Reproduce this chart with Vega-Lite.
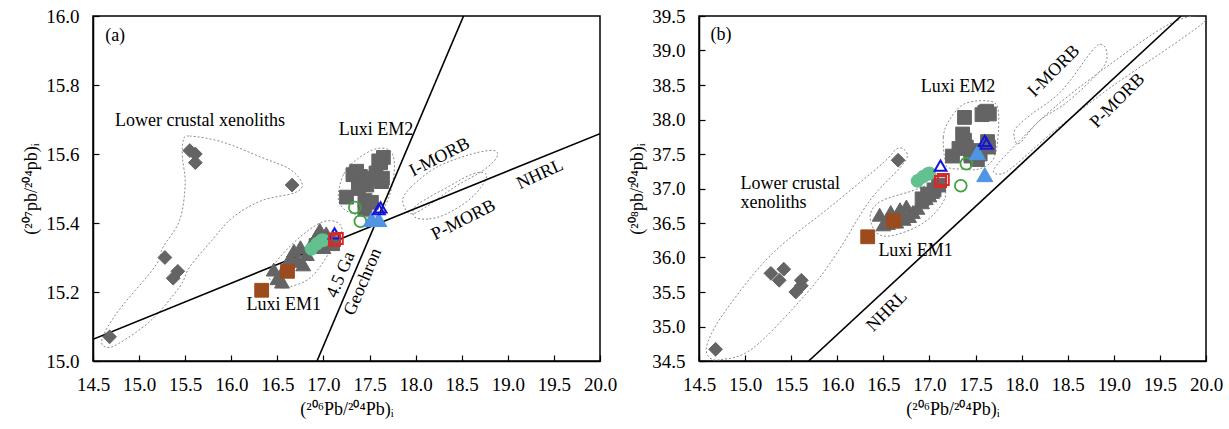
{
  "$schema": "https://vega.github.io/schema/vega-lite/v6.json",
  "autosize": {"type": "pad"},
  "padding": {"left": 22, "top": 6, "right": 5, "bottom": 5},
  "background": "white",
  "bounds": "flush",
  "spacing": 99,
  "config": {
    "view": {"stroke": "black", "strokeWidth": 1.5},
    "axis": {
      "grid": false,
      "labelFont": "Liberation Serif",
      "labelFontSize": 19,
      "labelColor": "black",
      "labelOverlap": false,
      "labelFlush": false,
      "titleFont": "Liberation Serif",
      "titleFontSize": 18,
      "titleFontWeight": "normal",
      "titleColor": "black",
      "domainColor": "black",
      "domainWidth": 1.5,
      "tickColor": "black",
      "tickWidth": 1.2,
      "tickSize": -6,
      "labelPadding": 20,
      "format": ".1f"
    },
    "axisX": {"titlePadding": 6},
    "axisY": {"titlePadding": 5},
    "text": {"font": "Liberation Serif", "fontSize": 18, "color": "black"}
  },
  "datasets": {
    "samples": [
      {"g": "xenolith", "x": 14.68, "pb207": 15.07, "pb208": 34.67},
      {"g": "xenolith", "x": 15.28, "pb207": 15.30, "pb208": 35.77},
      {"g": "xenolith", "x": 15.37, "pb207": 15.24, "pb208": 35.67},
      {"g": "xenolith", "x": 15.42, "pb207": 15.26, "pb208": 35.83},
      {"g": "xenolith", "x": 15.55, "pb207": 15.61, "pb208": 35.50},
      {"g": "xenolith", "x": 15.61, "pb207": 15.60, "pb208": 35.59},
      {"g": "xenolith", "x": 15.61, "pb207": 15.575, "pb208": 35.67},
      {"g": "xenolith", "x": 16.66, "pb207": 15.51, "pb208": 37.41},
      {"g": "em1", "x": 16.46, "pb207": 15.265, "pb208": 36.62},
      {"g": "em1", "x": 16.50, "pb207": 15.24, "pb208": 36.48},
      {"g": "em1", "x": 16.55, "pb207": 15.23, "pb208": 36.50},
      {"g": "em1", "x": 16.58, "pb207": 15.27, "pb208": 36.66},
      {"g": "em1", "x": 16.64, "pb207": 15.30, "pb208": 36.52},
      {"g": "em1", "x": 16.68, "pb207": 15.32, "pb208": 36.70},
      {"g": "em1", "x": 16.72, "pb207": 15.29, "pb208": 36.56},
      {"g": "em1", "x": 16.75, "pb207": 15.33, "pb208": 36.74},
      {"g": "em1", "x": 16.78, "pb207": 15.28, "pb208": 36.60},
      {"g": "em1", "x": 16.82, "pb207": 15.31, "pb208": 36.66},
      {"g": "em1", "x": 16.87, "pb207": 15.34, "pb208": 36.72},
      {"g": "em1", "x": 16.92, "pb207": 15.36, "pb208": 36.80},
      {"g": "em1", "x": 16.96, "pb207": 15.38, "pb208": 36.86},
      {"g": "em1", "x": 17.00, "pb207": 15.33, "pb208": 36.90},
      {"g": "em1", "x": 17.03, "pb207": 15.37, "pb208": 36.95},
      {"g": "em2", "x": 16.92, "pb207": 15.335, "pb208": 36.85},
      {"g": "em2", "x": 16.98, "pb207": 15.345, "pb208": 36.92},
      {"g": "em2", "x": 17.05, "pb207": 15.35, "pb208": 36.98},
      {"g": "em2", "x": 17.10, "pb207": 15.34, "pb208": 37.05},
      {"g": "em2", "x": 17.25, "pb207": 15.475, "pb208": 37.47},
      {"g": "em2", "x": 17.32, "pb207": 15.54, "pb208": 37.58},
      {"g": "em2", "x": 17.36, "pb207": 15.55, "pb208": 37.79},
      {"g": "em2", "x": 17.38, "pb207": 15.52, "pb208": 38.03},
      {"g": "em2", "x": 17.40, "pb207": 15.535, "pb208": 37.60},
      {"g": "em2", "x": 17.38, "pb207": 15.50, "pb208": 37.70},
      {"g": "em2", "x": 17.45, "pb207": 15.465, "pb208": 37.47},
      {"g": "em2", "x": 17.47, "pb207": 15.51, "pb208": 37.55},
      {"g": "em2", "x": 17.45, "pb207": 15.44, "pb208": 37.50},
      {"g": "em2", "x": 17.55, "pb207": 15.53, "pb208": 37.50},
      {"g": "em2", "x": 17.57, "pb207": 15.545, "pb208": 38.07},
      {"g": "em2", "x": 17.62, "pb207": 15.575, "pb208": 38.12},
      {"g": "em2", "x": 17.65, "pb207": 15.59, "pb208": 38.08},
      {"g": "em2", "x": 17.60, "pb207": 15.58, "pb208": 38.10},
      {"g": "em2", "x": 17.63, "pb207": 15.52, "pb208": 37.68},
      {"g": "em2", "x": 17.52, "pb207": 15.46, "pb208": 37.42},
      {"g": "em2", "x": 17.64, "pb207": 15.53, "pb208": 37.60},
      {"g": "brown", "x": 16.33, "pb207": 15.205, "pb208": 36.30},
      {"g": "brown", "x": 16.61, "pb207": 15.26, "pb208": 36.53},
      {"g": "mint", "x": 16.87, "pb207": 15.325, "pb208": 37.11},
      {"g": "mint", "x": 16.93, "pb207": 15.34, "pb208": 37.17},
      {"g": "mint", "x": 16.98, "pb207": 15.35, "pb208": 37.21},
      {"g": "mint", "x": 17.00, "pb207": 15.35, "pb208": 37.22},
      {"g": "ring", "x": 17.34, "pb207": 15.445, "pb208": 37.04},
      {"g": "ring", "x": 17.40, "pb207": 15.405, "pb208": 37.36},
      {"g": "skyTri", "x": 17.52, "pb207": 15.41, "pb208": 37.52},
      {"g": "skyTri", "x": 17.60, "pb207": 15.41, "pb208": 37.20},
      {"g": "blueTri", "x": 17.12, "pb207": 15.37, "pb208": 37.33},
      {"g": "blueTri", "x": 17.60, "pb207": 15.44, "pb208": 37.69},
      {"g": "blueTri", "x": 17.62, "pb207": 15.445, "pb208": 37.65},
      {"g": "redSq", "x": 17.12, "pb207": 15.35, "pb208": 37.10},
      {"g": "redSq", "x": 17.15, "pb207": 15.355, "pb208": 37.13}
    ],
    "refLines": [
      {"panel": "a", "name": "nhrl", "i": 1, "x": 14.5, "y": 15.063},
      {"panel": "a", "name": "nhrl", "i": 2, "x": 20.0, "y": 15.659},
      {"panel": "a", "name": "geochron", "i": 1, "x": 16.93, "y": 15.0},
      {"panel": "a", "name": "geochron", "i": 2, "x": 18.52, "y": 16.0},
      {"panel": "b", "name": "nhrl", "i": 1, "x": 15.69, "y": 34.5},
      {"panel": "b", "name": "nhrl", "i": 2, "x": 19.73, "y": 39.5}
    ],
    "fields": [
      {"panel": "a", "name": "xen", "i": 1, "x": 15.48, "y": 15.64},
      {"panel": "a", "name": "xen", "i": 2, "x": 15.55, "y": 15.652},
      {"panel": "a", "name": "xen", "i": 3, "x": 15.90, "y": 15.635},
      {"panel": "a", "name": "xen", "i": 4, "x": 16.33, "y": 15.59},
      {"panel": "a", "name": "xen", "i": 5, "x": 16.64, "y": 15.555},
      {"panel": "a", "name": "xen", "i": 6, "x": 16.77, "y": 15.512},
      {"panel": "a", "name": "xen", "i": 7, "x": 16.68, "y": 15.487},
      {"panel": "a", "name": "xen", "i": 8, "x": 16.33, "y": 15.465},
      {"panel": "a", "name": "xen", "i": 9, "x": 16.02, "y": 15.417},
      {"panel": "a", "name": "xen", "i": 10, "x": 15.79, "y": 15.35},
      {"panel": "a", "name": "xen", "i": 11, "x": 15.55, "y": 15.273},
      {"panel": "a", "name": "xen", "i": 12, "x": 15.44, "y": 15.215},
      {"panel": "a", "name": "xen", "i": 13, "x": 15.13, "y": 15.118},
      {"panel": "a", "name": "xen", "i": 14, "x": 14.78, "y": 15.051},
      {"panel": "a", "name": "xen", "i": 15, "x": 14.64, "y": 15.04},
      {"panel": "a", "name": "xen", "i": 16, "x": 14.60, "y": 15.066},
      {"panel": "a", "name": "xen", "i": 17, "x": 14.78, "y": 15.147},
      {"panel": "a", "name": "xen", "i": 18, "x": 15.17, "y": 15.273},
      {"panel": "a", "name": "xen", "i": 19, "x": 15.26, "y": 15.33},
      {"panel": "a", "name": "xen", "i": 20, "x": 15.44, "y": 15.408},
      {"panel": "a", "name": "xen", "i": 21, "x": 15.50, "y": 15.513},
      {"panel": "a", "name": "xen", "i": 22, "x": 15.47, "y": 15.59},
      {"panel": "a", "name": "em1", "i": 1, "x": 16.41, "y": 15.253},
      {"panel": "a", "name": "em1", "i": 2, "x": 16.48, "y": 15.22},
      {"panel": "a", "name": "em1", "i": 3, "x": 16.60, "y": 15.213},
      {"panel": "a", "name": "em1", "i": 4, "x": 16.87, "y": 15.244},
      {"panel": "a", "name": "em1", "i": 5, "x": 17.10, "y": 15.33},
      {"panel": "a", "name": "em1", "i": 6, "x": 17.20, "y": 15.379},
      {"panel": "a", "name": "em1", "i": 7, "x": 17.14, "y": 15.403},
      {"panel": "a", "name": "em1", "i": 8, "x": 16.99, "y": 15.403},
      {"panel": "a", "name": "em1", "i": 9, "x": 16.79, "y": 15.369},
      {"panel": "a", "name": "em1", "i": 10, "x": 16.56, "y": 15.311},
      {"panel": "a", "name": "em2", "i": 1, "x": 17.16, "y": 15.475},
      {"panel": "a", "name": "em2", "i": 2, "x": 17.22, "y": 15.542},
      {"panel": "a", "name": "em2", "i": 3, "x": 17.37, "y": 15.586},
      {"panel": "a", "name": "em2", "i": 4, "x": 17.57, "y": 15.615},
      {"panel": "a", "name": "em2", "i": 5, "x": 17.72, "y": 15.61},
      {"panel": "a", "name": "em2", "i": 6, "x": 17.77, "y": 15.571},
      {"panel": "a", "name": "em2", "i": 7, "x": 17.74, "y": 15.504},
      {"panel": "a", "name": "em2", "i": 8, "x": 17.66, "y": 15.446},
      {"panel": "a", "name": "em2", "i": 9, "x": 17.53, "y": 15.417},
      {"panel": "a", "name": "em2", "i": 10, "x": 17.33, "y": 15.427},
      {"panel": "a", "name": "em2", "i": 11, "x": 17.22, "y": 15.441},
      {"panel": "a", "name": "imorb", "i": 1, "x": 17.86, "y": 15.465},
      {"panel": "a", "name": "imorb", "i": 2, "x": 17.95, "y": 15.504},
      {"panel": "a", "name": "imorb", "i": 3, "x": 18.23, "y": 15.562},
      {"panel": "a", "name": "imorb", "i": 4, "x": 18.61, "y": 15.60},
      {"panel": "a", "name": "imorb", "i": 5, "x": 18.85, "y": 15.61},
      {"panel": "a", "name": "imorb", "i": 6, "x": 18.88, "y": 15.59},
      {"panel": "a", "name": "imorb", "i": 7, "x": 18.73, "y": 15.552},
      {"panel": "a", "name": "imorb", "i": 8, "x": 18.42, "y": 15.504},
      {"panel": "a", "name": "imorb", "i": 9, "x": 18.11, "y": 15.446},
      {"panel": "a", "name": "imorb", "i": 10, "x": 17.94, "y": 15.427},
      {"panel": "a", "name": "pmorb", "i": 1, "x": 17.99, "y": 15.417},
      {"panel": "a", "name": "pmorb", "i": 2, "x": 18.15, "y": 15.412},
      {"panel": "a", "name": "pmorb", "i": 3, "x": 18.34, "y": 15.427},
      {"panel": "a", "name": "pmorb", "i": 4, "x": 18.57, "y": 15.465},
      {"panel": "a", "name": "pmorb", "i": 5, "x": 18.71, "y": 15.504},
      {"panel": "a", "name": "pmorb", "i": 6, "x": 18.77, "y": 15.538},
      {"panel": "a", "name": "pmorb", "i": 7, "x": 18.69, "y": 15.547},
      {"panel": "a", "name": "pmorb", "i": 8, "x": 18.54, "y": 15.533},
      {"panel": "a", "name": "pmorb", "i": 9, "x": 18.38, "y": 15.509},
      {"panel": "a", "name": "pmorb", "i": 10, "x": 18.15, "y": 15.475},
      {"panel": "a", "name": "pmorb", "i": 11, "x": 17.99, "y": 15.446},
      {"panel": "b", "name": "xen", "i": 1, "x": 14.60, "y": 34.57},
      {"panel": "b", "name": "xen", "i": 2, "x": 14.74, "y": 34.52},
      {"panel": "b", "name": "xen", "i": 3, "x": 15.09, "y": 34.69},
      {"panel": "b", "name": "xen", "i": 4, "x": 15.66, "y": 35.47},
      {"panel": "b", "name": "xen", "i": 5, "x": 15.99, "y": 36.05},
      {"panel": "b", "name": "xen", "i": 6, "x": 16.35, "y": 36.82},
      {"panel": "b", "name": "xen", "i": 7, "x": 16.68, "y": 37.30},
      {"panel": "b", "name": "xen", "i": 8, "x": 16.76, "y": 37.47},
      {"panel": "b", "name": "xen", "i": 9, "x": 16.72, "y": 37.57},
      {"panel": "b", "name": "xen", "i": 10, "x": 16.64, "y": 37.57},
      {"panel": "b", "name": "xen", "i": 11, "x": 16.48, "y": 37.35},
      {"panel": "b", "name": "xen", "i": 12, "x": 15.91, "y": 36.72},
      {"panel": "b", "name": "xen", "i": 13, "x": 15.29, "y": 36.05},
      {"panel": "b", "name": "xen", "i": 14, "x": 14.81, "y": 35.27},
      {"panel": "b", "name": "xen", "i": 15, "x": 14.60, "y": 34.79},
      {"panel": "b", "name": "em1", "i": 1, "x": 16.36, "y": 36.63},
      {"panel": "b", "name": "em1", "i": 2, "x": 16.48, "y": 36.82},
      {"panel": "b", "name": "em1", "i": 3, "x": 16.80, "y": 36.96},
      {"panel": "b", "name": "em1", "i": 4, "x": 17.05, "y": 37.08},
      {"panel": "b", "name": "em1", "i": 5, "x": 17.15, "y": 37.04},
      {"panel": "b", "name": "em1", "i": 6, "x": 17.17, "y": 36.87},
      {"panel": "b", "name": "em1", "i": 7, "x": 17.05, "y": 36.63},
      {"panel": "b", "name": "em1", "i": 8, "x": 16.84, "y": 36.43},
      {"panel": "b", "name": "em1", "i": 9, "x": 16.56, "y": 36.31},
      {"panel": "b", "name": "em1", "i": 10, "x": 16.41, "y": 36.38},
      {"panel": "b", "name": "em2", "i": 1, "x": 17.17, "y": 37.40},
      {"panel": "b", "name": "em2", "i": 2, "x": 17.15, "y": 37.74},
      {"panel": "b", "name": "em2", "i": 3, "x": 17.21, "y": 37.98},
      {"panel": "b", "name": "em2", "i": 4, "x": 17.37, "y": 38.22},
      {"panel": "b", "name": "em2", "i": 5, "x": 17.62, "y": 38.27},
      {"panel": "b", "name": "em2", "i": 6, "x": 17.74, "y": 38.17},
      {"panel": "b", "name": "em2", "i": 7, "x": 17.74, "y": 37.69},
      {"panel": "b", "name": "em2", "i": 8, "x": 17.68, "y": 37.40},
      {"panel": "b", "name": "em2", "i": 9, "x": 17.53, "y": 37.28},
      {"panel": "b", "name": "em2", "i": 10, "x": 17.37, "y": 37.28},
      {"panel": "b", "name": "em2", "i": 11, "x": 17.21, "y": 37.30},
      {"panel": "b", "name": "imorb", "i": 1, "x": 17.92, "y": 37.74},
      {"panel": "b", "name": "imorb", "i": 2, "x": 17.94, "y": 37.88},
      {"panel": "b", "name": "imorb", "i": 3, "x": 18.10, "y": 38.07},
      {"panel": "b", "name": "imorb", "i": 4, "x": 18.43, "y": 38.41},
      {"panel": "b", "name": "imorb", "i": 5, "x": 18.76, "y": 38.99},
      {"panel": "b", "name": "imorb", "i": 6, "x": 18.86, "y": 39.09},
      {"panel": "b", "name": "imorb", "i": 7, "x": 18.92, "y": 38.99},
      {"panel": "b", "name": "imorb", "i": 8, "x": 18.88, "y": 38.75},
      {"panel": "b", "name": "imorb", "i": 9, "x": 18.51, "y": 38.27},
      {"panel": "b", "name": "imorb", "i": 10, "x": 18.19, "y": 37.98},
      {"panel": "b", "name": "imorb", "i": 11, "x": 17.98, "y": 37.66},
      {"panel": "b", "name": "pmorb", "i": 1, "x": 17.70, "y": 37.28},
      {"panel": "b", "name": "pmorb", "i": 2, "x": 17.94, "y": 37.64},
      {"panel": "b", "name": "pmorb", "i": 3, "x": 18.35, "y": 38.17},
      {"panel": "b", "name": "pmorb", "i": 4, "x": 18.96, "y": 38.80},
      {"panel": "b", "name": "pmorb", "i": 5, "x": 19.57, "y": 39.36},
      {"panel": "b", "name": "pmorb", "i": 6, "x": 19.94, "y": 39.52},
      {"panel": "b", "name": "pmorb", "i": 7, "x": 19.99, "y": 39.43},
      {"panel": "b", "name": "pmorb", "i": 8, "x": 19.65, "y": 39.09},
      {"panel": "b", "name": "pmorb", "i": 9, "x": 18.96, "y": 38.46},
      {"panel": "b", "name": "pmorb", "i": 10, "x": 18.35, "y": 37.83},
      {"panel": "b", "name": "pmorb", "i": 11, "x": 17.94, "y": 37.35},
      {"panel": "b", "name": "pmorb", "i": 12, "x": 17.78, "y": 37.21}
    ],
    "notes": [
      {"panel": "a", "text": "(a)", "x": 14.74, "y": 15.942},
      {"panel": "a", "text": "Lower crustal xenoliths", "x": 15.66, "y": 15.697},
      {"panel": "a", "text": "Luxi EM2", "x": 17.57, "y": 15.67},
      {"panel": "a", "text": "Luxi EM1", "x": 16.57, "y": 15.162},
      {"panel": "a", "text": "I-MORB", "x": 18.26, "y": 15.59},
      {"panel": "a", "text": "P-MORB", "x": 18.52, "y": 15.408},
      {"panel": "a", "text": "NHRL", "x": 19.35, "y": 15.54},
      {"panel": "a", "text": "4.5 Ga", "x": 17.19, "y": 15.25},
      {"panel": "a", "text": "Geochron", "x": 17.43, "y": 15.229},
      {"panel": "b", "text": "(b)", "x": 14.74, "y": 39.23},
      {"panel": "b", "text": "Lower crustal", "x": 14.95, "y": 37.06},
      {"panel": "b", "text": "xenoliths", "x": 14.95, "y": 36.79},
      {"panel": "b", "text": "Luxi EM2", "x": 17.31, "y": 38.47},
      {"panel": "b", "text": "Luxi EM1", "x": 16.85, "y": 36.09},
      {"panel": "b", "text": "I-MORB", "x": 18.35, "y": 38.70},
      {"panel": "b", "text": "P-MORB", "x": 19.04, "y": 38.27},
      {"panel": "b", "text": "NHRL", "x": 16.54, "y": 35.22}
    ]
  },
  "hconcat": [
    {
      "width": 507,
      "height": 345,
      "encoding": {
        "x": {"field": "x", "type": "quantitative",
              "scale": {"domain": [14.5, 20], "nice": false, "zero": false},
              "axis": {"title": "(²⁰⁶Pb/²⁰⁴Pb)ᵢ", "values": [14.5, 15, 15.5, 16, 16.5, 17, 17.5, 18, 18.5, 19, 19.5, 20]}},
        "y": {"field": "y", "type": "quantitative",
              "scale": {"domain": [15, 16], "nice": false, "zero": false},
              "axis": {"title": "(²⁰⁷pb/²⁰⁴pb)ᵢ", "values": [15, 15.2, 15.4, 15.6, 15.8, 16]}}
      },
      "layer": [
        {
          "data": {"name": "fields"},
          "transform": [{"filter": "datum.panel === 'a'"}],
          "mark": {"type": "line", "interpolate": "cardinal-closed", "stroke": "#8a8a8a", "strokeWidth": 1, "strokeDash": [2, 2], "clip": true},
          "encoding": {"detail": {"field": "name"}, "order": {"field": "i", "type": "quantitative"}}
        },
        {
          "data": {"name": "refLines"},
          "transform": [{"filter": "datum.panel === 'a'"}],
          "mark": {"type": "line", "stroke": "black", "strokeWidth": 1.6, "clip": true},
          "encoding": {"detail": {"field": "name"}, "order": {"field": "i", "type": "quantitative"}}
        },
        {
          "data": {"name": "samples"},
          "mark": {"type": "point", "filled": true, "opacity": 1, "clip": true},
          "encoding": {
            "y": {"field": "pb207", "type": "quantitative",
                  "scale": {"domain": [15, 16], "nice": false, "zero": false},
                  "axis": {"title": "(²⁰⁷pb/²⁰⁴pb)ᵢ", "values": [15, 15.2, 15.4, 15.6, 15.8, 16]}},
            "shape": {"field": "g", "type": "nominal", "legend": null,
                      "scale": {"domain": ["xenolith", "em1", "em2", "brown", "mint", "ring", "skyTri", "blueTri", "redSq"],
                                "range": ["diamond", "triangle-up", "square", "square", "circle", "circle", "triangle-up", "triangle-up", "square"]}},
            "fill": {"field": "g", "type": "nominal", "legend": null,
                     "scale": {"domain": ["xenolith", "em1", "em2", "brown", "mint", "ring", "skyTri", "blueTri", "redSq"],
                               "range": ["#646464", "#646464", "#646464", "#9c4b1d", "#63c18f", "transparent", "#4f95e3", "transparent", "transparent"]}},
            "stroke": {"field": "g", "type": "nominal", "legend": null,
                       "scale": {"domain": ["xenolith", "em1", "em2", "brown", "mint", "ring", "skyTri", "blueTri", "redSq"],
                                 "range": ["#646464", "#646464", "#646464", "#9c4b1d", "#63c18f", "#3ea33e", "#4f95e3", "#1414d9", "#d42a2a"]}},
            "size": {"field": "g", "type": "nominal", "legend": null,
                     "scale": {"type": "ordinal", "domain": ["xenolith", "em1", "em2", "brown", "mint", "ring", "skyTri", "blueTri", "redSq"],
                               "range": [190, 220, 190, 190, 160, 140, 260, 140, 120]}},
            "strokeWidth": {"field": "g", "type": "nominal", "legend": null,
                            "scale": {"type": "ordinal", "domain": ["xenolith", "em1", "em2", "brown", "mint", "ring", "skyTri", "blueTri", "redSq"],
                                      "range": [1, 1, 1, 1, 1, 1.8, 1, 2, 2]}}
          }
        },
        {
          "data": {"name": "notes"},
          "transform": [{"filter": "datum.panel === 'a' && indexof(['I-MORB','P-MORB','NHRL','4.5 Ga','Geochron'], datum.text) < 0"}],
          "mark": {"type": "text", "align": "center", "baseline": "middle"},
          "encoding": {"text": {"field": "text"}}
        },
        {
          "data": {"name": "notes"},
          "transform": [{"filter": "datum.panel === 'a' && (datum.text === 'I-MORB' || datum.text === 'P-MORB')"}],
          "mark": {"type": "text", "align": "center", "baseline": "middle", "angle": -27},
          "encoding": {"text": {"field": "text"}}
        },
        {
          "data": {"name": "notes"},
          "transform": [{"filter": "datum.panel === 'a' && datum.text === 'NHRL'"}],
          "mark": {"type": "text", "align": "center", "baseline": "middle", "angle": -25},
          "encoding": {"text": {"field": "text"}}
        },
        {
          "data": {"name": "notes"},
          "transform": [{"filter": "datum.panel === 'a' && (datum.text === '4.5 Ga' || datum.text === 'Geochron')"}],
          "mark": {"type": "text", "align": "center", "baseline": "middle", "angle": -67},
          "encoding": {"text": {"field": "text"}}
        }
      ]
    },
    {
      "width": 507,
      "height": 345,
      "encoding": {
        "x": {"field": "x", "type": "quantitative",
              "scale": {"domain": [14.5, 20], "nice": false, "zero": false},
              "axis": {"title": "(²⁰⁶Pb/²⁰⁴Pb)ᵢ", "values": [14.5, 15, 15.5, 16, 16.5, 17, 17.5, 18, 18.5, 19, 19.5, 20]}},
        "y": {"field": "y", "type": "quantitative",
              "scale": {"domain": [34.5, 39.5], "nice": false, "zero": false},
              "axis": {"title": "(²⁰⁸pb/²⁰⁴pb)ᵢ", "values": [34.5, 35, 35.5, 36, 36.5, 37, 37.5, 38, 38.5, 39, 39.5]}}
      },
      "layer": [
        {
          "data": {"name": "fields"},
          "transform": [{"filter": "datum.panel === 'b'"}],
          "mark": {"type": "line", "interpolate": "cardinal-closed", "stroke": "#8a8a8a", "strokeWidth": 1, "strokeDash": [2, 2], "clip": true},
          "encoding": {"detail": {"field": "name"}, "order": {"field": "i", "type": "quantitative"}}
        },
        {
          "data": {"name": "refLines"},
          "transform": [{"filter": "datum.panel === 'b'"}],
          "mark": {"type": "line", "stroke": "black", "strokeWidth": 1.6, "clip": true},
          "encoding": {"detail": {"field": "name"}, "order": {"field": "i", "type": "quantitative"}}
        },
        {
          "data": {"name": "samples"},
          "mark": {"type": "point", "filled": true, "opacity": 1, "clip": true},
          "encoding": {
            "y": {"field": "pb208", "type": "quantitative",
                  "scale": {"domain": [34.5, 39.5], "nice": false, "zero": false},
                  "axis": {"title": "(²⁰⁸pb/²⁰⁴pb)ᵢ", "values": [34.5, 35, 35.5, 36, 36.5, 37, 37.5, 38, 38.5, 39, 39.5]}},
            "shape": {"field": "g", "type": "nominal", "legend": null,
                      "scale": {"domain": ["xenolith", "em1", "em2", "brown", "mint", "ring", "skyTri", "blueTri", "redSq"],
                                "range": ["diamond", "triangle-up", "square", "square", "circle", "circle", "triangle-up", "triangle-up", "square"]}},
            "fill": {"field": "g", "type": "nominal", "legend": null,
                     "scale": {"domain": ["xenolith", "em1", "em2", "brown", "mint", "ring", "skyTri", "blueTri", "redSq"],
                               "range": ["#646464", "#646464", "#646464", "#9c4b1d", "#63c18f", "transparent", "#4f95e3", "transparent", "transparent"]}},
            "stroke": {"field": "g", "type": "nominal", "legend": null,
                       "scale": {"domain": ["xenolith", "em1", "em2", "brown", "mint", "ring", "skyTri", "blueTri", "redSq"],
                                 "range": ["#646464", "#646464", "#646464", "#9c4b1d", "#63c18f", "#3ea33e", "#4f95e3", "#1414d9", "#d42a2a"]}},
            "size": {"field": "g", "type": "nominal", "legend": null,
                     "scale": {"type": "ordinal", "domain": ["xenolith", "em1", "em2", "brown", "mint", "ring", "skyTri", "blueTri", "redSq"],
                               "range": [190, 220, 190, 190, 160, 140, 260, 140, 120]}},
            "strokeWidth": {"field": "g", "type": "nominal", "legend": null,
                            "scale": {"type": "ordinal", "domain": ["xenolith", "em1", "em2", "brown", "mint", "ring", "skyTri", "blueTri", "redSq"],
                                      "range": [1, 1, 1, 1, 1, 1.8, 1, 2, 2]}}
          }
        },
        {
          "data": {"name": "notes"},
          "transform": [{"filter": "datum.panel === 'b' && (datum.text === '(b)' || datum.text === 'Luxi EM1' || datum.text === 'Luxi EM2')"}],
          "mark": {"type": "text", "align": "center", "baseline": "middle"},
          "encoding": {"text": {"field": "text"}}
        },
        {
          "data": {"name": "notes"},
          "transform": [{"filter": "datum.panel === 'b' && (datum.text === 'Lower crustal' || datum.text === 'xenoliths')"}],
          "mark": {"type": "text", "align": "left", "baseline": "middle"},
          "encoding": {"text": {"field": "text"}}
        },
        {
          "data": {"name": "notes"},
          "transform": [{"filter": "datum.panel === 'b' && (datum.text === 'I-MORB' || datum.text === 'P-MORB' || datum.text === 'NHRL')"}],
          "mark": {"type": "text", "align": "center", "baseline": "middle", "angle": -45},
          "encoding": {"text": {"field": "text"}}
        }
      ]
    }
  ]
}
